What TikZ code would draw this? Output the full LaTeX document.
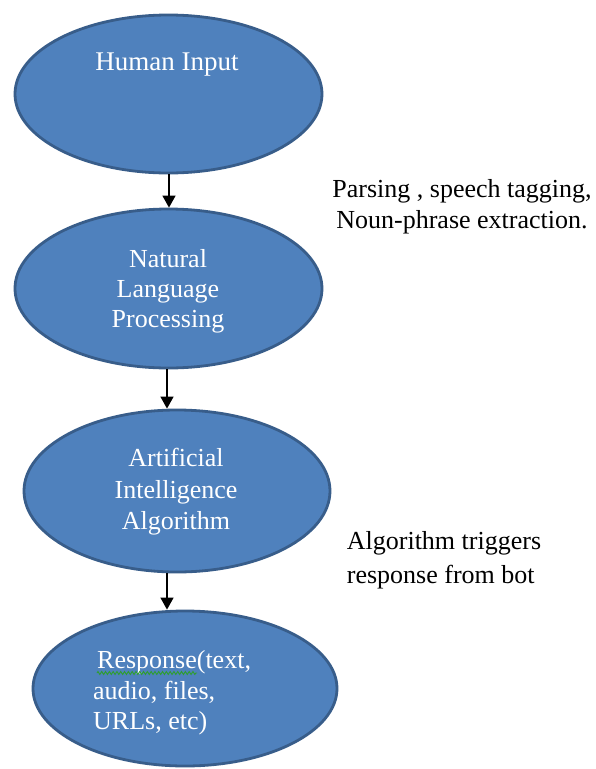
\documentclass[tikz,border=0pt]{standalone}
\usepackage{fontspec}
\setmainfont{Liberation Serif}
\usetikzlibrary{arrows.meta,shapes.geometric,decorations.pathmorphing}
\definecolor{ovalfill}{HTML}{4F81BD}
\definecolor{ovaldraw}{HTML}{385D8A}
\definecolor{spellgreen}{HTML}{2E9E2E}
\begin{document}
\begin{tikzpicture}[x=1pt,y=-1pt,
  oval/.style={ellipse, fill=ovalfill, draw=ovaldraw, line width=2.8pt, inner sep=0pt},
  ovaltext/.style={text=white, inner sep=0pt},
  note/.style={text=black, inner sep=0pt},
  arr/.style={line width=1.3pt, -{Triangle[width=13pt,length=12pt]}},
  spell/.style={draw=spellgreen, line width=0.9pt, decorate,
    decoration={zigzag, amplitude=1.5pt, segment length=3.8pt}}]
\useasboundingbox (0,0) rectangle (595,769);
\fill[white] (0,0) rectangle (595,769);

% ovals
\node[oval, minimum width=307pt, minimum height=158pt] (e1) at (168.5,94) {};
\node[oval, minimum width=307pt, minimum height=159pt] (e2) at (168.5,288.5) {};
\node[oval, minimum width=306pt, minimum height=162pt] (e3) at (177,491) {};
\node[oval, minimum width=304pt, minimum height=155pt] (e4) at (185,688.5) {};

% texts inside ovals
\node[ovaltext, font=\fontsize{27}{31}\selectfont] (t1) at (167,65) {Human Input};
\node[ovaltext, align=center, font=\fontsize{26}{30}\selectfont] (t2) at (168,291) {Natural\\Language\\Processing};
\node[ovaltext, align=center, font=\fontsize{26}{31.5}\selectfont] (t3) at (176,492) {Artificial\\Intelligence\\Algorithm};
\node[ovaltext, align=left, anchor=west, font=\fontsize{26}{30.5}\selectfont] (t4) at (93,693) {\hspace*{4pt}Response(text,\\audio, files,\\URLs, etc)};
\draw[spell] (97,673) -- (197,673);

% side notes
\node[note, align=center, font=\fontsize{26}{31}\selectfont] (n1) at (462,207) {Parsing , speech tagging,\\Noun-phrase extraction.};
\node[note, align=left, font=\fontsize{26}{34}\selectfont] (n2) at (444,560) {Algorithm triggers\\response from bot};

% connectors
\coordinate (c1) at (169,0);
\coordinate (c2) at (167,0);
\draw[arr] (e1.south -| c1) -- (e2.north -| c1);
\draw[arr] (e2.south -| c2) -- (e3.north -| c2);
\draw[arr] (e3.south -| c2) -- (e4.north -| c2);
\end{tikzpicture}
\end{document}
